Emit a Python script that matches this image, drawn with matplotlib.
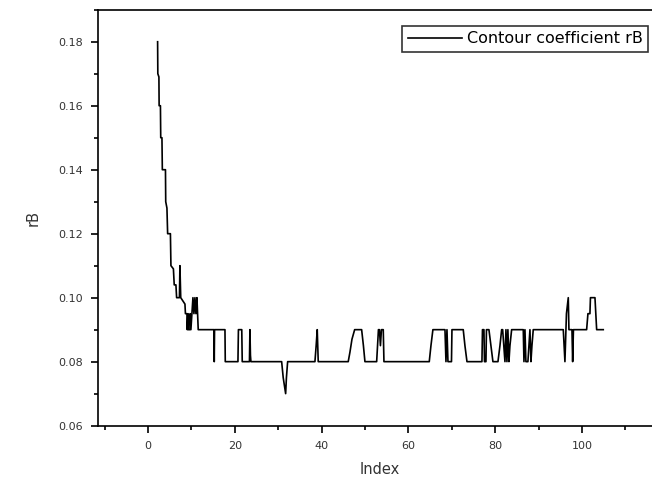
import matplotlib
matplotlib.use('Agg')
import matplotlib.pyplot as plt
from matplotlib.ticker import MultipleLocator, FormatStrFormatter

plt.rcParams['font.family'] = ['DejaVu Sans']

# polyline vertices (Index, rB)
index = [2.23, 2.28, 2.53, 2.58, 2.88, 2.95, 3.23, 3.32, 4.04, 4.10,
         4.38, 4.54, 5.18, 5.30, 5.87, 6.06, 6.45, 6.61, 7.26, 7.37,
         7.56, 8.53, 8.64, 8.99, 9.06, 9.22, 9.28, 9.67, 9.74, 9.90,
         10.37, 10.60, 10.83, 11.06, 11.29, 11.59, 15.21, 15.28, 15.35, 17.75,
         17.82, 20.74, 20.85, 21.62, 21.73, 23.39, 23.50, 23.62, 23.73, 30.81,
         31.17, 31.73, 31.91, 32.19, 38.48, 38.76, 39.01, 39.24, 46.15, 46.55,
         47.01, 47.63, 49.24, 49.65, 50.00, 52.70, 53.11, 53.34, 53.57, 53.80,
         54.22, 54.38, 64.82, 65.21, 65.66, 68.44, 68.67, 68.90, 69.13, 69.94,
         70.05, 72.65, 73.04, 73.51, 76.89, 76.96, 77.08, 77.42, 77.54, 77.88,
         78.00, 78.57, 79.03, 79.49, 80.65, 81.11, 81.50, 81.73, 82.26, 82.49,
         82.72, 82.94, 83.18, 83.41, 83.80, 86.48, 86.64, 86.87, 87.09, 87.55,
         88.02, 88.25, 88.48, 88.78, 95.70, 96.08, 96.43, 96.85, 97.00, 97.70,
         97.86, 98.04, 101.08, 101.38, 101.84, 101.96, 103.00, 103.39, 104.91]
rB = [0.180, 0.170, 0.169, 0.160, 0.160, 0.150, 0.150, 0.140, 0.140, 0.130,
      0.128, 0.120, 0.120, 0.110, 0.109, 0.104, 0.104, 0.100, 0.100, 0.110,
      0.100, 0.098, 0.095, 0.095, 0.090, 0.095, 0.090, 0.090, 0.095, 0.090,
      0.100, 0.095, 0.100, 0.095, 0.100, 0.090, 0.090, 0.080, 0.090, 0.090,
      0.080, 0.080, 0.090, 0.090, 0.080, 0.080, 0.090, 0.082, 0.080, 0.080,
      0.075, 0.070, 0.075, 0.080, 0.080, 0.085, 0.090, 0.080, 0.080, 0.083,
      0.087, 0.090, 0.090, 0.085, 0.080, 0.080, 0.090, 0.090, 0.085, 0.090,
      0.090, 0.080, 0.080, 0.085, 0.090, 0.090, 0.080, 0.090, 0.080, 0.080,
      0.090, 0.090, 0.085, 0.080, 0.080, 0.080, 0.090, 0.090, 0.080, 0.080,
      0.090, 0.090, 0.085, 0.080, 0.080, 0.085, 0.090, 0.090, 0.080, 0.090,
      0.080, 0.090, 0.080, 0.085, 0.090, 0.090, 0.080, 0.090, 0.080, 0.080,
      0.090, 0.080, 0.085, 0.090, 0.090, 0.080, 0.095, 0.100, 0.090, 0.090,
      0.080, 0.090, 0.090, 0.095, 0.095, 0.100, 0.100, 0.090, 0.090]

fig = plt.figure(figsize=(6.52, 4.87), dpi=100)
# plot frame runs a little past the right edge of the picture
ax = fig.add_axes([0.151, 0.126, 0.8627, 0.854])

ax.plot(index, rB, color='black', lw=1.2, label='Contour coefficient rB')

ax.set_xlim(-11.4, 118.2)
ax.set_ylim(0.06, 0.19)
ax.xaxis.set_major_locator(MultipleLocator(20))
ax.xaxis.set_minor_locator(MultipleLocator(10))
ax.yaxis.set_major_locator(MultipleLocator(0.02))
ax.yaxis.set_minor_locator(MultipleLocator(0.01))
ax.yaxis.set_major_formatter(FormatStrFormatter('%.2f'))
ax.tick_params(which='major', direction='out', length=5, width=1.2,
               labelsize=8, labelcolor='#333333', pad=6)
ax.tick_params(which='minor', direction='out', length=3, width=1.2)
for s in ax.spines.values():
    s.set_linewidth(1.2)

ax.set_xlabel('Index', fontsize=10.5, color='#333333', labelpad=8)
ax.set_ylabel('rB', fontsize=10.5, color='#333333', labelpad=13)

leg = ax.legend(loc='upper right', fontsize=11.5, frameon=True, fancybox=False,
                edgecolor='black', handlelength=3.4, handletextpad=0.3,
                borderpad=0.35, borderaxespad=0.0,
                bbox_to_anchor=(0.9773, 0.962))
leg.get_frame().set_linewidth(1.2)

fig.savefig('out.png', dpi=100)
